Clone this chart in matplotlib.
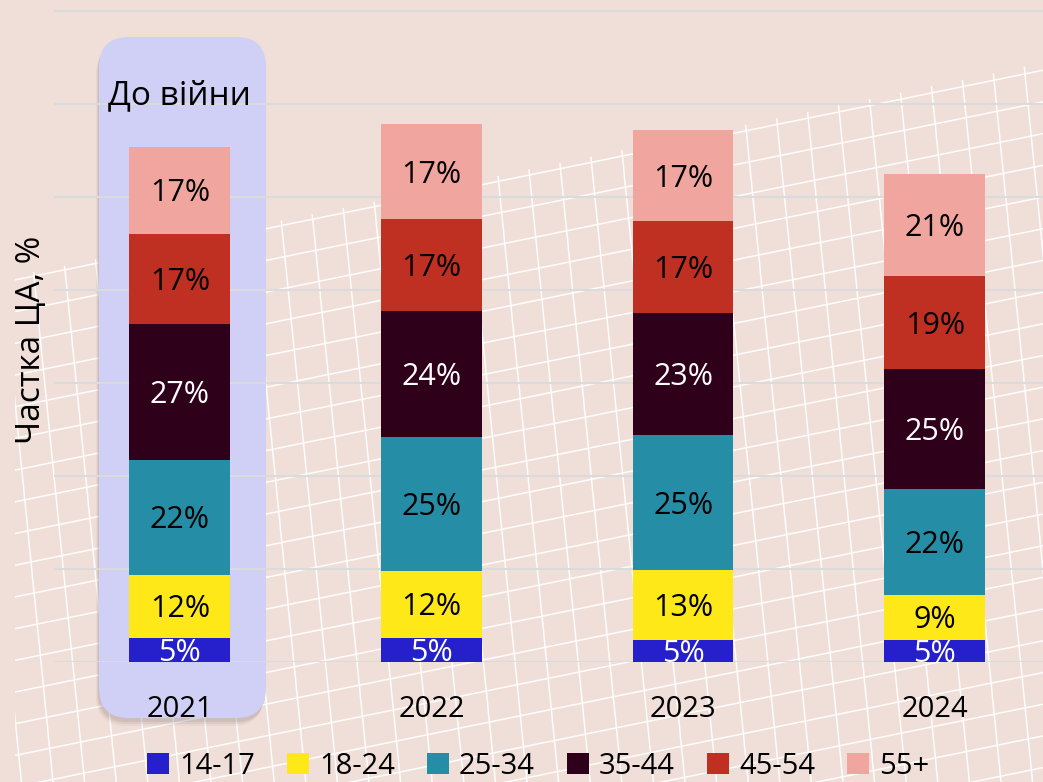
import numpy as np
import matplotlib.pyplot as plt
from matplotlib.patches import FancyBboxPatch, Polygon, Patch
from matplotlib.transforms import offset_copy

plt.rcParams['font.family'] = ['Open Sans', 'DejaVu Sans']

years = ['2021', '2022', '2023', '2024']
groups = ['14-17', '18-24', '25-34', '35-44', '45-54', '55+']
colors = ['#2620CC', '#FFE817', '#258EA6', '#2E0019', '#BF3022', '#F0A69E']
text_colors = ['white', 'black', 'black', 'white', 'black', 'black']

# audience size per age group, in chart units (one gridline = 1)
size_14_17 = [0.26, 0.26, 0.24, 0.24]
size_18_24 = [0.68, 0.72, 0.75, 0.48]
size_25_34 = [1.23, 1.44, 1.45, 1.14]
size_35_44 = [1.46, 1.35, 1.31, 1.29]
size_45_54 = [0.97, 0.99, 0.99, 1.00]
size_55 = [0.94, 1.02, 0.98, 1.10]

# share labels, %
pct_14_17 = [5, 5, 5, 5]
pct_18_24 = [12, 12, 13, 9]
pct_25_34 = [22, 25, 25, 22]
pct_35_44 = [27, 24, 23, 25]
pct_45_54 = [17, 17, 17, 19]
pct_55 = [17, 17, 17, 21]

sizes = [size_14_17, size_18_24, size_25_34, size_35_44, size_45_54, size_55]
pcts = [pct_14_17, pct_18_24, pct_25_34, pct_35_44, pct_45_54, pct_55]

W, H = 1043, 782
bg = '#F0DFD8'
fig = plt.figure(figsize=(W / 100, H / 100), dpi=100, facecolor=bg)

###########################################
# Background: white mesh + "before war" box
###########################################
axbg = fig.add_axes([0, 0, 1, 1])
axbg.set_xlim(0, W)
axbg.set_ylim(H, 0)
axbg.axis('off')

clip = Polygon([(15, 276), (W, 63), (W, H), (15, H)], closed=True,
               facecolor='none', edgecolor='none', transform=axbg.transData)
axbg.add_patch(clip)

for x0 in np.arange(-120, W + 40, 31.6):
    ln, = axbg.plot([x0, x0 + 0.1 * H], [0, H], color='white', lw=1.1, alpha=0.95, zorder=1)
    ln.set_clip_path(clip)

for c in np.arange(283, 283 + 40 * 31.7, 31.7):
    ln, = axbg.plot([0, W], [c, c - 0.204 * W], color='white', lw=1.1, alpha=0.95, zorder=1)
    ln.set_clip_path(clip)

for dx, dy, a in [(-1, 4, 0.12), (-2, 6, 0.10), (-3, 8, 0.06)]:
    axbg.add_patch(FancyBboxPatch((99 + dx, 37 + dy), 167, 681,
                                  boxstyle='round,pad=0,rounding_size=30',
                                  facecolor='#6e6060', edgecolor='none', alpha=a, zorder=3))
axbg.add_patch(FancyBboxPatch((99, 37), 167, 681, boxstyle='round,pad=0,rounding_size=30',
                              facecolor='#D0CFF5', edgecolor='none', zorder=4))

###########################################
# Stacked bars
###########################################
ax = fig.add_axes([54 / W, (H - 662) / H, (W - 54) / W, 662 / H])
ax.patch.set_alpha(0)
lbl_tr = offset_copy(ax.transData, fig=fig, y=-11, units='dots')
x = np.arange(len(years))
bottom = np.zeros(len(years))
for vals, lbls, col, tcol in zip(sizes, pcts, colors, text_colors):
    vals = np.array(vals)
    ax.bar(x, vals, 0.4, bottom=bottom, color=col, zorder=3)
    for xi, b, v, p in zip(x, bottom, vals, lbls):
        ax.text(xi, b + v / 2, f'{p}%', ha='center', va='baseline', fontsize=22,
                color=tcol, zorder=4, clip_on=True, transform=lbl_tr)
    bottom += vals

ax.set_xlim(-0.5, 3.43)
ax.set_ylim(0, 662 / 93)
ax.set_yticks(np.arange(0, 8))
ax.set_yticklabels([])
ax.grid(axis='y', color='#D9DBDD', lw=1.5, zorder=1)
ax.set_axisbelow(True)
ax.set_xticks(x)
ax.set_xticklabels(years, fontsize=21)
ax.tick_params(length=0, pad=24)
for s in ax.spines.values():
    s.set_visible(False)

ax.text(0, (662 - 92) / 93, 'До війни', ha='center', va='baseline', fontsize=24,
        transform=offset_copy(ax.transData, fig=fig, y=-12, units='dots'))

fig.text(32 / W, 1 - 340 / H, 'Частка ЦА, %', rotation=90, ha='center', va='center',
         fontsize=24)

handles = [Patch(facecolor=c) for c in colors]
fig.legend(handles, groups, loc='center', bbox_to_anchor=(0.516, 1 - 766 / H), ncol=6,
           frameon=False, fontsize=21, handlelength=0.75, handleheight=0.75,
           handletextpad=0.35, columnspacing=1.1, borderpad=0)

fig.savefig('out.png', dpi=100, facecolor=bg)
